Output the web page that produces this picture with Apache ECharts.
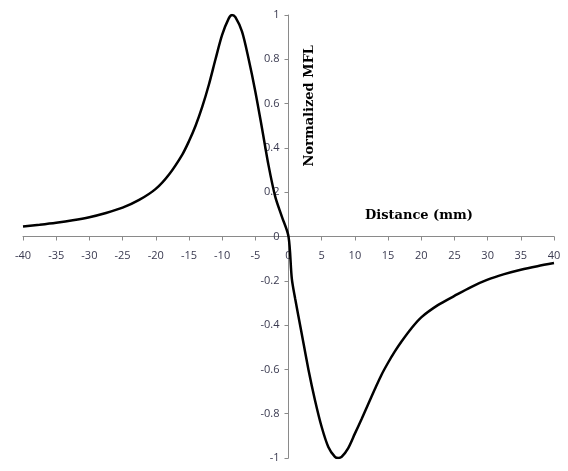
<!DOCTYPE html>
<html>
<head>
<meta charset="utf-8">
<script src="https://cdn.jsdelivr.net/npm/echarts@6/dist/echarts.min.js"></script>
<style>
  html, body { margin: 0; padding: 0; background: #fff; }
  #chart { width: 568px; height: 471px; }
</style>
</head>
<body>
<div id="chart"></div>
<script>
// distance (mm) and normalized MFL
const distance = [
  -40, -37.5, -35, -32.5, -30, -27.5, -25, -22.5, -20, -18, -16, -15, -14, -13, -12, -11, -10,
  -9, -8.5, -8, -7, -6, -5, -4, -3, -2, -1, 0,
  0.5, 1, 2, 3, 4, 5, 6, 7, 7.5, 8, 9, 10, 11, 12, 13, 14, 15, 16, 17, 18.5, 20,
  22.5, 25, 27.5, 30, 32.5, 35, 37.5, 40
];
const mfl = [
  0.045, 0.053, 0.062, 0.073, 0.087, 0.106, 0.13, 0.165, 0.215, 0.28, 0.37, 0.43, 0.50, 0.585, 0.685, 0.80, 0.91,
  0.985, 1.0, 0.99, 0.925, 0.80, 0.655, 0.49, 0.32, 0.18, 0.09, 0,
  -0.19, -0.28, -0.44, -0.60, -0.74, -0.86, -0.95, -0.995, -1.0, -0.995, -0.955, -0.89, -0.825, -0.757, -0.69, -0.625, -0.57, -0.52, -0.475, -0.415, -0.365,
  -0.31, -0.268, -0.228, -0.195, -0.17, -0.15, -0.134, -0.12
];

const chart = echarts.init(document.getElementById('chart'));
const labelStyle = { color: '#3a3a50', fontSize: 11, fontFamily: 'Open Sans' };
const titleFont = { fontFamily: 'DejaVu Serif', fontWeight: 'bold', fontSize: 13, fill: '#000' };

// grid is 531 x 443, zero sits in the middle of both axes
chart.setOption({
  animation: false,
  grid: { left: 23, right: 14, top: 15, bottom: 13 },
  xAxis: {
    type: 'value',
    min: -40,
    max: 40,
    interval: 5,
    offset: -221.5,
    axisLine: { onZero: false, lineStyle: { color: '#8a8a8a' } },
    axisTick: { length: 4, lineStyle: { color: '#8a8a8a' } },
    axisLabel: Object.assign({ margin: 14 }, labelStyle),
    splitLine: { show: false }
  },
  yAxis: {
    type: 'value',
    min: -1,
    max: 1,
    interval: 0.2,
    offset: -265.5,
    axisLine: { show: true, onZero: false, lineStyle: { color: '#8a8a8a' } },
    axisTick: { show: true, length: 4, lineStyle: { color: '#8a8a8a' } },
    axisLabel: Object.assign({ margin: 9 }, labelStyle),
    splitLine: { show: false }
  },
  graphic: [
    {
      type: 'text',
      left: 303,
      top: 45,
      style: Object.assign({ text: 'Normalized MFL' }, titleFont),
      rotation: Math.PI / 2,
      originX: 0,
      originY: 0
    },
    {
      type: 'text',
      left: 365,
      top: 209,
      style: Object.assign({ text: 'Distance (mm)' }, titleFont)
    }
  ],
  series: [{
    type: 'line',
    data: distance.map((d, i) => [d, mfl[i]]),
    smooth: 0.3,
    showSymbol: false,
    lineStyle: { color: '#000', width: 2.5 }
  }]
});
</script>
</body>
</html>
